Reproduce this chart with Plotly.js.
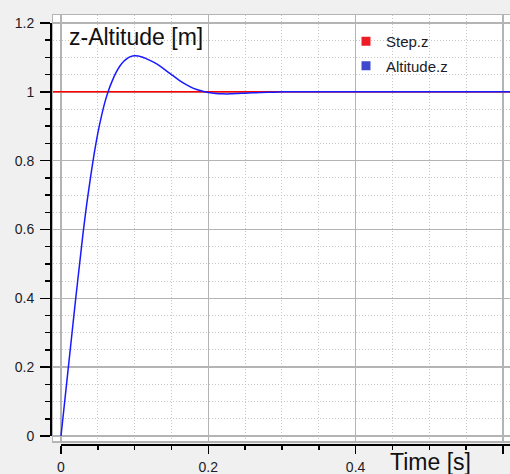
<!DOCTYPE html>
<html>
<head>
<meta charset="utf-8">
<script src="https://cdn.plot.ly/plotly-3.0.1.min.js"></script>
<style>html,body{margin:0;padding:0;background:#f0f0f0;}#chart{width:510px;height:474px;}</style>
</head>
<body>
<div id="chart"></div>
<script>
// ---- data ----
const time = [0, 0.005, 0.01, 0.015, 0.02, 0.025, 0.03, 0.035, 0.04, 0.045, 0.05, 0.055, 0.06, 0.065, 0.07, 0.075, 0.08, 0.085, 0.09, 0.095, 0.1, 0.105, 0.11, 0.115, 0.12, 0.13, 0.14, 0.15, 0.16, 0.17, 0.18, 0.19, 0.2, 0.21, 0.22, 0.23, 0.24, 0.25, 0.26, 0.27, 0.28, 0.29, 0.3, 0.61];
const altitude = [0, 0.10, 0.20, 0.30, 0.40, 0.495, 0.59, 0.675, 0.75, 0.82, 0.88, 0.93, 0.973, 1.007, 1.034, 1.057, 1.075, 1.088, 1.097, 1.103, 1.105, 1.104, 1.101, 1.097, 1.092, 1.081, 1.066, 1.05, 1.034, 1.021, 1.01, 1.003, 0.998, 0.995, 0.994, 0.994, 0.995, 0.996, 0.997, 0.998, 0.999, 0.999, 1.0, 1.0];
const stepTime = [-0.011, 0.61];
const stepValue = [1, 1];
const seriesNames = ['Step.z', 'Altitude.z'];
const chartTitle = 'z-Altitude [m]';
const xTitle = 'Time [s]';

// ---- geometry (pixels in a 510x474 page) ----
const W = 510, H = 474;
const px = v => v / W;
const py = v => 1 - v / H;
const x0px = 61, xUnit = 736.5;     // x=0 pixel, pixels per second
const y0px = 436, yUnit = 344.2;    // y=0 pixel, pixels per metre
const plotL = 53, plotT = 15, plotB = 441;

const font = 'Liberation Sans, Arial, sans-serif';
const txt = '#1c1c28';

const traces = [
  {x: stepTime, y: stepValue, mode: 'lines', line: {color: '#ff0000', width: 1.5},
   xaxis: 'x', yaxis: 'y', showlegend: false, hoverinfo: 'skip'},
  {x: time, y: altitude, mode: 'lines', line: {color: '#1a1aff', width: 1.5, shape: 'spline', smoothing: 0.6},
   xaxis: 'x', yaxis: 'y', showlegend: false, hoverinfo: 'skip'},
  {x: [null], y: [null], mode: 'markers', name: seriesNames[0], legendgroup: 'a',
   marker: {symbol: 'square', size: 9, color: '#ee1c25'}, xaxis: 'x', yaxis: 'y'},
  {x: [null], y: [null], mode: 'markers', name: seriesNames[1], legendgroup: 'b',
   marker: {symbol: 'square', size: 9, color: '#3f48cc'}, xaxis: 'x', yaxis: 'y'},
  // register the axis subplot so its axes are drawn
  {x: [null], y: [null], xaxis: 'x2', yaxis: 'y2', mode: 'lines', showlegend: false, hoverinfo: 'skip'}
];

const minorGrid = {dtick: 0.05, tick0: 0, showgrid: true, gridcolor: '#c8c8c8', griddash: '1px,2px', gridwidth: 1};

const layout = {
  width: W, height: H,
  margin: {l: 0, r: 0, t: 0, b: 0, pad: 0},
  paper_bgcolor: '#f0f0f0',
  plot_bgcolor: 'rgba(0,0,0,0)',
  font: {family: font, size: 14, color: txt},
  title: {text: chartTitle, x: px(69), xanchor: 'left', xref: 'paper',
          y: py(37), yanchor: 'middle', yref: 'paper',
          font: {family: font, size: 23, color: '#111111'}},
  showlegend: true,
  legend: {x: px(346), xanchor: 'left', y: py(25), yanchor: 'top', traceorder: 'grouped',
           bgcolor: 'rgba(0,0,0,0)', font: {family: font, size: 15, color: '#1c1c28'},
           tracegroupgap: 2},
  shapes: [
    {type: 'rect', xref: 'paper', yref: 'paper', x0: px(plotL), x1: 1.01, y0: py(plotB), y1: py(plotT),
     fillcolor: '#ffffff', line: {width: 0}, layer: 'below'}
  ],
  // grid subplot (white area)
  xaxis: {domain: [px(plotL), 1], range: [(plotL - x0px) / xUnit, (W - x0px) / xUnit],
          showgrid: true, gridcolor: '#b4b4b4', gridwidth: 1.5, dtick: 0.2, tick0: 0,
          minor: minorGrid,
          showticklabels: false, ticks: '', zeroline: false,
          showline: true, linecolor: '#b4b4b4', linewidth: 1.5, mirror: true, fixedrange: true},
  yaxis: {domain: [py(plotB), py(plotT)], range: [(y0px - plotB) / yUnit, (y0px - plotT) / yUnit],
          showgrid: true, gridcolor: '#b4b4b4', gridwidth: 1.5, dtick: 0.2, tick0: 0,
          minor: minorGrid,
          showticklabels: false, ticks: '', zeroline: false,
          showline: true, linecolor: '#b4b4b4', linewidth: 1.5, mirror: true, fixedrange: true},
  // axis subplot (black axis lines, ticks, labels)
  xaxis2: {domain: [px(x0px), 1], range: [0, (W - x0px) / xUnit], anchor: 'free', position: py(444),
           showgrid: false, zeroline: false, showline: true, linecolor: '#000', linewidth: 1.5,
           dtick: 0.2, tick0: 0, ticks: 'outside', ticklen: 8, tickwidth: 1.5, tickcolor: '#000',
           minor: {dtick: 0.05, tick0: 0, ticks: 'outside', ticklen: 4, tickwidth: 1.5, tickcolor: '#000', showgrid: false},
           tickfont: {family: font, size: 14, color: txt}, ticklabelstandoff: 2, fixedrange: true},
  yaxis2: {domain: [py(y0px), py(y0px - 1.2 * yUnit)], range: [0, 1.2], anchor: 'free', position: px(50),
           showgrid: false, zeroline: false, showline: true, linecolor: '#000', linewidth: 1.5,
           dtick: 0.2, tick0: 0, ticks: 'outside', ticklen: 10, tickwidth: 1.5, tickcolor: '#000',
           minor: {dtick: 0.05, tick0: 0, ticks: 'outside', ticklen: 5, tickwidth: 1.5, tickcolor: '#000', showgrid: false},
           tickfont: {family: font, size: 14, color: txt}, ticklabelstandoff: 3, fixedrange: true},
  annotations: [
    {text: xTitle, xref: 'paper', yref: 'paper', x: px(430), y: py(462),
     xanchor: 'center', yanchor: 'middle', showarrow: false,
     font: {family: font, size: 23, color: '#111111'}}
  ]
};

Plotly.newPlot('chart', traces, layout, {displayModeBar: false, staticPlot: true});
</script>
</body>
</html>
